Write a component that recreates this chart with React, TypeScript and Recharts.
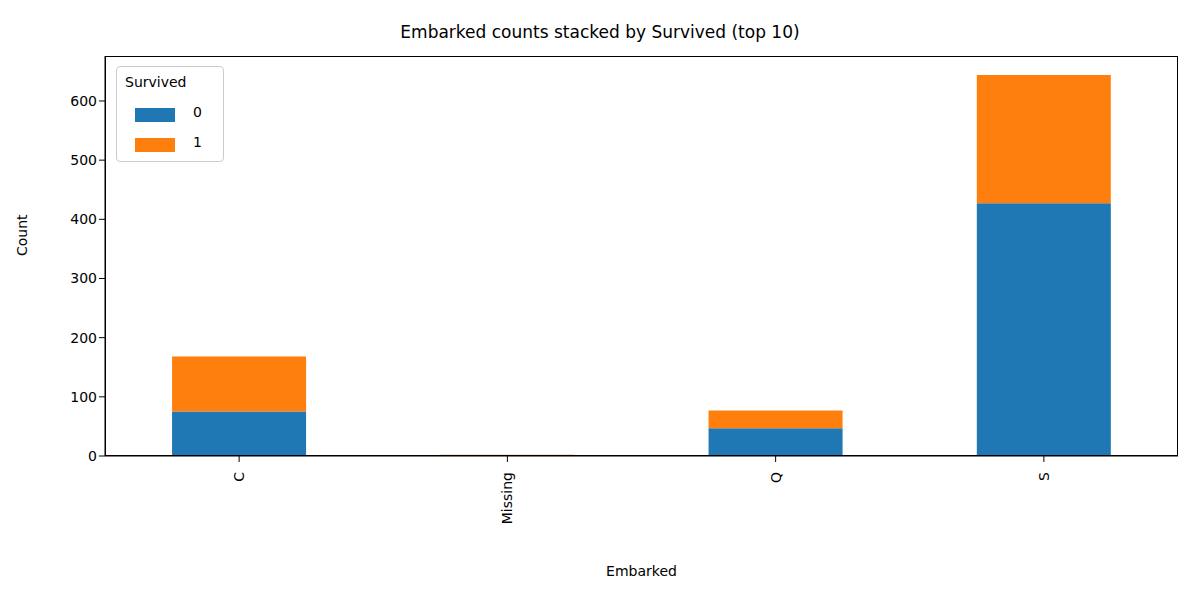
import React from "react";
import { BarChart, Bar, XAxis, YAxis } from "recharts";

const categories = ["C", "Missing", "Q", "S"];
const died = [75, 0, 47, 427];
const survived = [93, 2, 30, 217];
const yTicks = [0, 100, 200, 300, 400, 500, 600];

const data = categories.map((c, i) => ({ name: c, s0: died[i], s1: survived[i] }));
const font = "DejaVu Sans, sans-serif";

const XTick = (props: any) => {
  const { x, y, payload } = props;
  return (
    <g transform={`translate(${x},${y + 8})`}>
      <text transform="rotate(-90)" textAnchor="end" dy={5} fontSize={14} fill="#000" fontFamily={font}>
        {payload.value}
      </text>
    </g>
  );
};

export default function App() {
  return (
    <div style={{ position: "absolute", left: 0, top: 0, width: 1200, height: 600, background: "#fff", fontFamily: font }}>
      <div style={{ position: "absolute", top: 22, width: 1200, textAlign: "center", fontSize: 17 }}>
        Embarked counts stacked by Survived (top 10)
      </div>
      <BarChart width={1200} height={600} data={data} margin={{ top: 56, right: 22, left: 0, bottom: 0 }} barCategoryGap="25%">
        <XAxis dataKey="name" height={144} tick={<XTick />} tickLine={{ stroke: "#000" }} axisLine={{ stroke: "#000" }}
          label={{ value: "Embarked", position: "insideBottom", offset: 24, fontSize: 14, fill: "#000", fontFamily: font }} />
        <YAxis width={105} domain={[0, 676]} ticks={yTicks} tick={{ fontSize: 14, fill: "#000", fontFamily: font }}
          tickLine={{ stroke: "#000" }} axisLine={{ stroke: "#000" }}
          label={{ value: "Count", angle: -90, position: "insideLeft", offset: 22, fontSize: 14, fill: "#000", fontFamily: font }} />
        <Bar dataKey="s0" stackId="a" fill="#1f77b4" isAnimationActive={false} />
        <Bar dataKey="s1" stackId="a" fill="#ff7f0e" isAnimationActive={false} />
      </BarChart>
      <div style={{ position: "absolute", left: 105, top: 56, width: 1073, height: 400, border: "1px solid #000", boxSizing: "border-box", pointerEvents: "none" }} />
      <div style={{ position: "absolute", left: 116, top: 66, width: 108, height: 96, border: "1px solid #ccc", borderRadius: 4, background: "rgba(255,255,255,0.8)", boxSizing: "border-box", fontSize: 14 }}>
        <div style={{ position: "absolute", left: 8, top: 7 }}>Survived</div>
        <div style={{ position: "absolute", left: 18, top: 41, width: 40, height: 14, background: "#1f77b4" }} />
        <div style={{ position: "absolute", left: 76, top: 37 }}>0</div>
        <div style={{ position: "absolute", left: 18, top: 71, width: 40, height: 14, background: "#ff7f0e" }} />
        <div style={{ position: "absolute", left: 76, top: 67 }}>1</div>
      </div>
    </div>
  );
}
